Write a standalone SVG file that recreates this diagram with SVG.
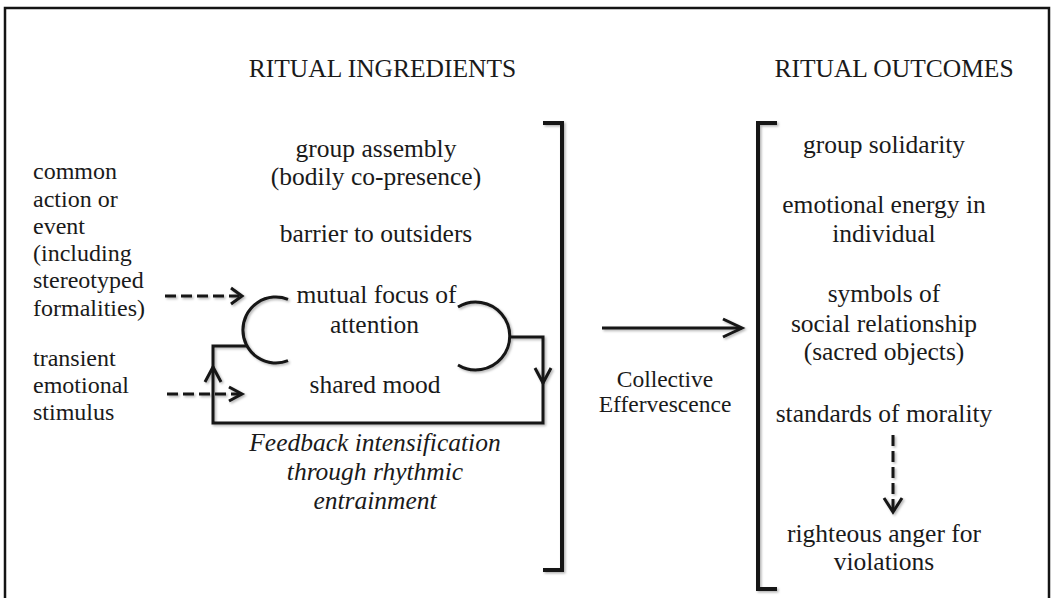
<svg xmlns="http://www.w3.org/2000/svg" width="1054" height="598" viewBox="0 0 1054 598">
<style>
text{font-family:"Liberation Serif","Times New Roman",serif;fill:#1a1a1a;font-size:25.5px}
.c{text-anchor:middle}
.sm{font-size:24px}
.ce{font-size:23.5px}
.it{font-style:italic}
.ln{fill:none;stroke:#141414;stroke-width:3;stroke-linecap:butt;stroke-linejoin:miter}
.br{fill:none;stroke:#141414;stroke-width:4}
.ds{stroke-dasharray:11 5}
</style>
<defs>
<filter id="sh" x="-10%" y="-10%" width="130%" height="130%">
<feDropShadow dx="1.5" dy="1.5" stdDeviation="1" flood-color="#000" flood-opacity="0.3"/>
</filter>
</defs>
<rect width="1054" height="598" fill="#fff"/>
<path d="M5,600 V8 H1049 V600" fill="none" stroke="#141414" stroke-width="2.5"/>

<g id="title-ingredients"><text class="c" x="382.5" y="77">RITUAL INGREDIENTS</text></g>
<g id="title-outcomes"><text class="c" x="894" y="77">RITUAL OUTCOMES</text></g>

<g id="input-common-action">
<text class="sm" x="33" y="179">common</text>
<text class="sm" x="33" y="206.5">action or</text>
<text class="sm" x="33" y="234">event</text>
<text class="sm" x="33" y="261">(including</text>
<text class="sm" x="33" y="288">stereotyped</text>
<text class="sm" x="33" y="315.5">formalities)</text>
</g>
<g id="input-transient">
<text class="sm" x="33" y="366">transient</text>
<text class="sm" x="33" y="393">emotional</text>
<text class="sm" x="33" y="420">stimulus</text>
</g>

<g id="ingredient-assembly">
<text class="c" x="376" y="157">group assembly</text>
<text class="c" x="376" y="185">(bodily co-presence)</text>
</g>
<g id="ingredient-barrier"><text class="c" x="376" y="242">barrier to outsiders</text></g>
<g id="ingredient-focus">
<text class="c" x="376.5" y="303">mutual focus of</text>
<text class="c" x="374.5" y="333">attention</text>
</g>
<g id="ingredient-mood"><text class="c" x="375" y="393">shared mood</text></g>
<g id="feedback-label">
<text class="c it" x="375" y="451">Feedback intensification</text>
<text class="c it" x="375" y="480">through rhythmic</text>
<text class="c it" x="375" y="509">entrainment</text>
</g>

<g id="collective-effervescence">
<text class="c ce" x="665" y="387">Collective</text>
<text class="c ce" x="665" y="412">Effervescence</text>
</g>

<g id="outcome-solidarity"><text class="c" x="884" y="153">group solidarity</text></g>
<g id="outcome-energy">
<text class="c" x="884" y="213">emotional energy in</text>
<text class="c" x="884" y="242">individual</text>
</g>
<g id="outcome-symbols">
<text class="c" x="884" y="302">symbols of</text>
<text class="c" x="884" y="332">social relationship</text>
<text class="c" x="884" y="360">(sacred objects)</text>
</g>
<g id="outcome-morality"><text class="c" x="884" y="422">standards of morality</text></g>
<g id="outcome-anger">
<text class="c" x="884" y="542">righteous anger for</text>
<text class="c" x="884" y="570">violations</text>
</g>

<g id="connectors" filter="url(#sh)">
<path class="br" d="M543,123 H562 V570 H543"/>
<path class="br" d="M777,123 H758 V589 H777"/>
<path class="ln" d="M288,299.3 A33,33 0 1 0 288,360.7"/>
<path class="ln" d="M458,307 A34,34 0 1 1 458,365"/>
<path class="ln" d="M510,337 H543 V423 H213 V346 H247"/>
<path class="ln" d="M535,368 L543,383 L551,368"/>
<path class="ln" d="M205,382 L213,367 L221,382"/>
<path class="ln ds" d="M165,296 H239"/>
<path class="ln" d="M231,288 L242,296 L231,304"/>
<path class="ln ds" d="M167,394 H239"/>
<path class="ln" d="M229,387 L242,394 L229,401"/>
<path class="ln" d="M602,328 H740"/>
<path class="ln" d="M723,319 L742,328 L723,337"/>
<path class="ln ds" d="M893,435 V510"/>
<path class="ln" d="M884,498 L893,512 L902,498"/>
</g>
</svg>
